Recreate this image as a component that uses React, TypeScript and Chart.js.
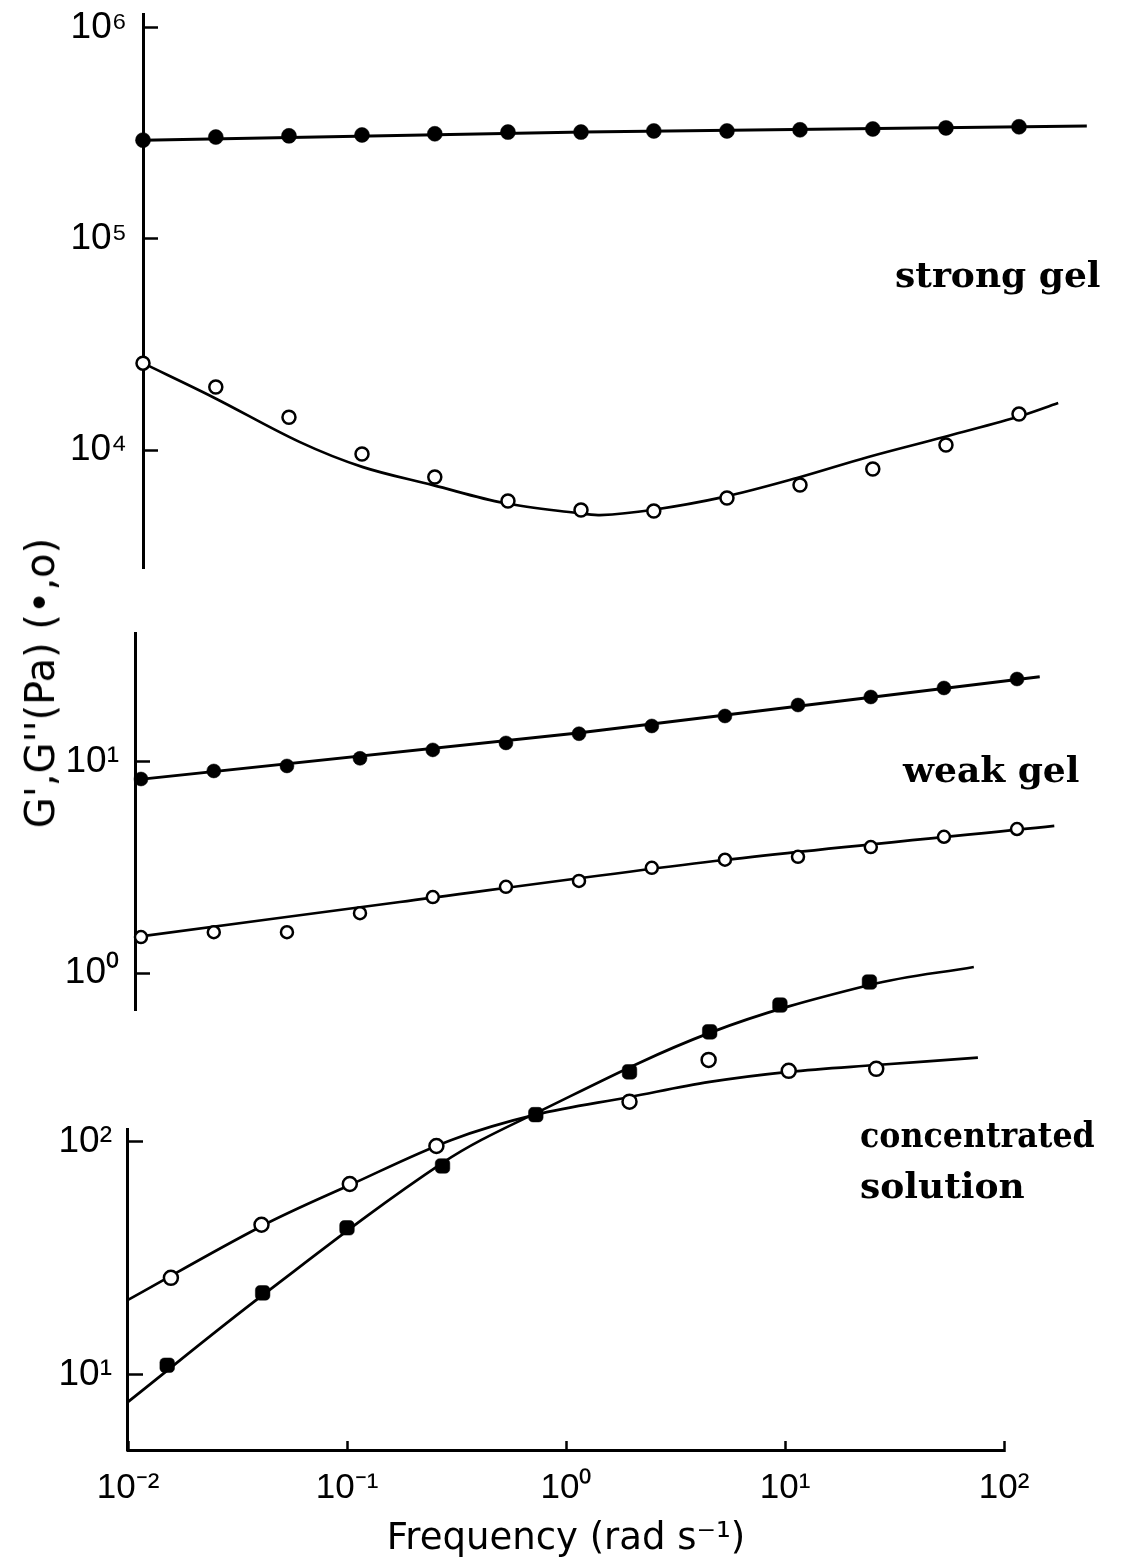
import React, { useEffect, useRef } from 'react';
import { Chart, registerables } from 'chart.js';

Chart.register(...registerables);

// ---------- data ----------
// frequencies (rad/s) of the gel measurements, three per decade
const gelFreq = [0.01, 0.0215, 0.0464, 0.1, 0.215, 0.464, 1, 2.15, 4.64, 10, 21.5, 46.4, 100];

// strong gel
const strongGPrime = [294000, 304000, 308000, 311000, 315000, 321000, 321000, 325000, 325000, 329000, 332000, 336000, 340000];
const strongGDouble = [25800, 19900, 14300, 9570, 7450, 5730, 5200, 5140, 5930, 6830, 8130, 10560, 14800];
const strongFitGPrimeFreq = [0.01, 1.03, 204];
const strongFitGPrime = [294000, 321000, 343000];
const strongFitGDoubleFreq = [0.01, 0.0209, 0.0521, 0.101, 0.211, 0.445, 0.959, 1.22, 2.11, 4.45, 9.68, 20.5, 45.5, 98.0, 151];
const strongFitGDouble = [25800, 17800, 10900, 8300, 6820, 5610, 5030, 4920, 5200, 5980, 7370, 9270, 11530, 14330, 16700];

// weak gel
const weakGPrime = [8.3, 9.06, 9.57, 10.4, 11.4, 12.3, 13.6, 14.8, 16.5, 18.6, 20.3, 22.4, 24.7];
const weakGDouble = [1.48, 1.56, 1.56, 1.92, 2.29, 2.56, 2.73, 3.15, 3.44, 3.55, 3.95, 4.42, 4.81];
const weakFitGPrimeFreq = [0.0094, 0.989, 127];
const weakFitGPrime = [8.22, 13.7, 25.3];
const weakFitGDoubleFreq = [0.0094, 0.152, 4.59, 148];
const weakFitGDouble = [1.48, 2.17, 3.43, 4.98];

// concentrated solution
const concFreqGPrime = [0.0151, 0.0412, 0.1, 0.273, 0.728, 1.95, 4.53, 9.48, 24.3];
const concGPrime = [11.0, 22.5, 42.8, 78.9, 131, 200, 297, 387, 486];
const concFreqGDouble = [0.0157, 0.0407, 0.103, 0.256, 1.95, 4.48, 10.4, 26.1];
const concGDouble = [26.1, 44.1, 66.0, 96.1, 149, 225, 202, 206];
const concFitGPrimeFreq = [0.01, 0.0412, 0.273, 0.728, 4.53, 24.3, 72.8];
const concFitGPrime = [7.66, 22.0, 81.3, 133, 294, 472, 564];
const concFitGDoubleFreq = [0.01, 0.0407, 0.103, 0.3, 0.728, 1.95, 4.53, 10.4, 26.1, 76.0];
const concFitGDouble = [21.0, 43.5, 65.3, 102, 131, 156, 181, 200, 214, 230];

// ticks
const xTickValues = [0.01, 0.1, 1, 10, 100];
const xTickLabels = ['10⁻²', '10⁻¹', '10⁰', '10¹', '10²'];
const strongTickValues = [1e4, 1e5, 1e6];
const strongTickLabels = ['10⁴', '10⁵', '10⁶'];
const weakTickValues = [1, 10];
const weakTickLabels = ['10⁰', '10¹'];
const concTickValues = [10, 100];
const concTickLabels = ['10¹', '10²'];

const xTitle = 'Frequency (rad s⁻¹)';
const yTitle = "G',G''(Pa) (•,o)";

// ---------- helpers ----------
const FONT_SANS = "'DejaVu Sans', sans-serif";
const FONT_TICK = "'Liberation Sans Narrow', 'Liberation Sans', sans-serif";
const FONT_SERIF = "'DejaVu Serif', serif";

const pts = (xs: number[], ys: number[]) => xs.map((x, i) => ({ x, y: ys[i] }));

const fitLine = (xs: number[], ys: number[], tension: number, width = 2.7) => ({
  data: pts(xs, ys),
  showLine: true,
  pointRadius: 0,
  borderColor: '#000',
  borderWidth: width,
  tension,
  fill: false,
  clip: false as const,
  order: 2,
});

const markers = (xs: number[], ys: number[], filled: boolean, radius: number, style = 'circle') => ({
  data: pts(xs, ys),
  showLine: false,
  pointStyle: style,
  pointRadius: radius,
  pointBackgroundColor: filled ? '#000' : '#fff',
  pointBorderColor: '#000',
  pointBorderWidth: filled ? 0.5 : 2.5,
  clip: false as const,
  order: 0,
});

// draws the y axis line only from a given value down to the x axis
const axisStubPlugin = {
  id: 'axisStub',
  beforeDatasetsDraw(chart: any, _args: any, opts: any) {
    if (!opts || opts.top == null) return;
    const ys = chart.scales.y;
    const ctx = chart.ctx;
    const x = chart.chartArea.left - 0.5;
    ctx.save();
    ctx.strokeStyle = '#000';
    ctx.lineWidth = 3;
    ctx.beginPath();
    ctx.moveTo(x, ys.getPixelForValue(opts.top));
    ctx.lineTo(x, chart.chartArea.bottom + 1.5);
    ctx.stroke();
    ctx.restore();
  },
};

interface PanelSpec {
  datasets: any[];
  padding: { left: number; right: number; top: number; bottom: number };
  xMin: number;
  yMin: number;
  yMax: number;
  yTicks: number[];
  yLabels: string[];
  showX: boolean;
  axisTop?: number;
}

function buildConfig(p: PanelSpec): any {
  return {
    type: 'scatter',
    data: { datasets: p.datasets },
    plugins: [axisStubPlugin],
    options: {
      animation: false,
      responsive: false,
      events: [],
      layout: { padding: p.padding },
      plugins: {
        legend: { display: false },
        tooltip: { enabled: false },
        title: { display: false },
        axisStub: { top: p.axisTop ?? null },
      },
      scales: {
        x: {
          type: 'logarithmic',
          position: 'bottom',
          bounds: 'data',
          min: p.xMin,
          max: 100,
          display: p.showX,
          afterBuildTicks: (s: any) => {
            s.ticks = xTickValues.map((v) => ({ value: v }));
          },
          afterFit: (s: any) => {
            if (p.showX) s.height = 117;
            s.paddingLeft = 0;
            s.paddingRight = 0;
          },
          ticks: {
            autoSkip: false,
            maxRotation: 0,
            padding: 26,
            color: '#000',
            font: { family: FONT_TICK, size: 35 },
            callback: (_v: any, i: number) => xTickLabels[i],
          },
          grid: {
            drawOnChartArea: false,
            drawTicks: true,
            tickLength: -9,
            tickWidth: 2.5,
            tickColor: '#000',
          },
          border: { display: true, color: '#000', width: 3 },
          title: {
            display: true,
            text: xTitle,
            color: '#000',
            font: { family: FONT_SANS, size: 37 },
            padding: { top: 0, bottom: 5 },
          },
        },
        y: {
          type: 'logarithmic',
          position: 'left',
          bounds: 'data',
          min: p.yMin,
          max: p.yMax,
          afterBuildTicks: (s: any) => {
            s.ticks = p.yTicks.map((v) => ({ value: v }));
          },
          afterFit: (s: any) => {
            s.width = 80;
            s.paddingTop = 0;
            s.paddingBottom = 0;
          },
          ticks: {
            autoSkip: false,
            padding: 31,
            color: '#000',
            font: { family: FONT_TICK, size: 37 },
            callback: (_v: any, i: number) => p.yLabels[i],
          },
          grid: {
            drawOnChartArea: false,
            drawTicks: true,
            tickLength: -15,
            tickWidth: 2.5,
            tickColor: '#000',
          },
          border: { display: p.axisTop == null, color: '#000', width: 3 },
        },
      },
    },
  };
}

const strongPanel: PanelSpec = {
  datasets: [
    markers(gelFreq, strongGPrime, true, 7.5),
    markers(gelFreq, strongGDouble, false, 6.5),
    fitLine(strongFitGPrimeFreq, strongFitGPrime, 0, 3),
    fitLine(strongFitGDoubleFreq, strongFitGDouble, 0.35),
  ],
  padding: { left: 63, right: 121, top: 14, bottom: 32 },
  xMin: 0.01,
  yMin: 2761,
  yMax: 1164000,
  yTicks: strongTickValues,
  yLabels: strongTickLabels,
  showX: false,
};

const weakPanel: PanelSpec = {
  datasets: [
    markers(gelFreq, weakGPrime, true, 7),
    markers(gelFreq, weakGDouble, false, 6),
    fitLine(weakFitGPrimeFreq, weakFitGPrime, 0, 3),
    fitLine(weakFitGDoubleFreq, weakFitGDouble, 0.3),
  ],
  padding: { left: 55, right: 123, top: 33, bottom: 20 },
  xMin: 0.00939,
  yMin: 0.668,
  yMax: 40.8,
  yTicks: weakTickValues,
  yLabels: weakTickLabels,
  showX: false,
};

const concPanel: PanelSpec = {
  datasets: [
    markers(concFreqGPrime, concGPrime, true, 8.5, 'rectRounded'),
    markers(concFreqGDouble, concGDouble, false, 7),
    fitLine(concFitGPrimeFreq, concFitGPrime, 0.35),
    fitLine(concFitGDoubleFreq, concFitGDouble, 0.35),
  ],
  padding: { left: 48, right: 136, top: 10, bottom: 0 },
  xMin: 0.01,
  yMin: 4.76,
  yMax: 667,
  yTicks: concTickValues,
  yLabels: concTickLabels,
  showX: true,
  axisTop: 114.8,
};

function Panel({ spec, top, height }: { spec: PanelSpec; top: number; height: number }) {
  const ref = useRef<HTMLCanvasElement>(null);
  useEffect(() => {
    if (!ref.current) return;
    const chart = new Chart(ref.current, buildConfig(spec));
    return () => chart.destroy();
  }, [spec]);
  return (
    <canvas
      ref={ref}
      width={1140}
      height={height}
      style={{ position: 'absolute', left: 0, top, width: 1140, height }}
    />
  );
}

const labelStyle: React.CSSProperties = {
  position: 'absolute',
  fontFamily: FONT_SERIF,
  fontWeight: 'bold',
  fontSize: 36,
  lineHeight: '36px',
  color: '#000',
  whiteSpace: 'nowrap',
};

export default function App() {
  return (
    <div
      style={{
        position: 'absolute',
        left: 0,
        top: 0,
        width: 1140,
        height: 1567,
        background: '#fff',
        overflow: 'hidden',
      }}
    >
      <Panel spec={strongPanel} top={0} height={600} />
      <Panel spec={weakPanel} top={600} height={430} />
      <Panel spec={concPanel} top={940} height={627} />
      <div style={{ ...labelStyle, left: 895, top: 256 }}>strong gel</div>
      <div style={{ ...labelStyle, left: 903, top: 751 }}>weak gel</div>
      <div
        style={{
          ...labelStyle,
          left: 860,
          top: 1116,
          transform: 'scaleX(0.88)',
          transformOrigin: 'left center',
        }}
      >
        concentrated
      </div>
      <div style={{ ...labelStyle, left: 860, top: 1167 }}>solution</div>
      <div
        style={{
          position: 'absolute',
          left: 40,
          top: 683,
          transform: 'translate(-50%, -50%) rotate(-90deg)',
          fontFamily: FONT_SANS,
          fontSize: 40,
          lineHeight: '40px',
          color: '#000',
          whiteSpace: 'nowrap',
        }}
      >
        {yTitle}
      </div>
    </div>
  );
}
